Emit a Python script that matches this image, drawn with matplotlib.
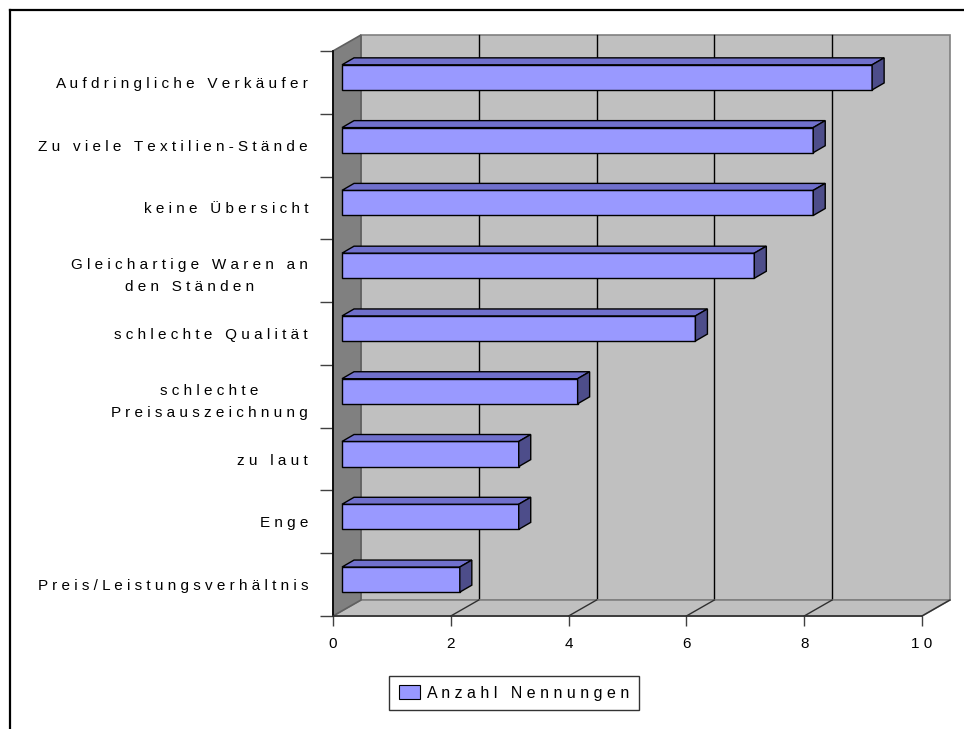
import matplotlib
matplotlib.use("Agg")
import matplotlib.pyplot as plt
from matplotlib.patches import Polygon, Patch
from matplotlib.lines import Line2D

plt.rcParams['font.family'] = ['Liberation Sans', 'DejaVu Sans']
plt.rcParams['font.size'] = 11

# categories top to bottom and number of mentions
categories = ['Aufdringliche Verkäufer', 'Zu viele Textilien-Stände', 'keine Übersicht',
              'Gleichartige Waren an\nden Ständen', 'schlechte Qualität',
              'schlechte\nPreisauszeichnung', 'zu laut', 'Enge', 'Preis/Leistungsverhältnis']
counts = [9, 8, 8, 7, 6, 4, 3, 3, 2]
xticks = [0, 2, 4, 6, 8, 10]
series_name = 'Anzahl Nennungen'


def spaced(s):
    # wide letter spacing like the old office charts
    return '\n'.join(' '.join(line) for line in s.split('\n'))


n = len(categories)
ypos = [n - 1 - i for i in range(n)]
xmax = 10

# 3d depth offsets in data units
DX, DY = 0.475, 0.255          # wall depth
BX, BY = 0.153, 0.08           # bar front offset
TX, TY = 0.204, 0.111          # bar depth
BH = 0.40                      # bar thickness

fig = plt.figure(figsize=(9.64, 7.29), dpi=100)
ax = fig.add_axes([333 / 964, 1 - 616 / 729, 589 / 964, 565 / 729])
ax.set_xlim(0, xmax)
ax.set_ylim(-0.5, n - 0.5)
ax.patch.set_visible(False)

y0, y1 = -0.5, n - 0.5

# back wall
ax.add_patch(Polygon([(DX, y0 + DY), (xmax + DX, y0 + DY), (xmax + DX, y1 + DY), (DX, y1 + DY)],
                     closed=True, facecolor='#C0C0C0', edgecolor='#808080', lw=1.2,
                     zorder=0, clip_on=False))
# gridlines on the back wall
for v in xticks[1:-1]:
    ax.plot([v + DX, v + DX], [y0 + DY, y1 + DY], color='black', lw=1, zorder=1, clip_on=False)
# floor
ax.add_patch(Polygon([(0, y0), (xmax, y0), (xmax + DX, y0 + DY), (DX, y0 + DY)],
                     closed=True, facecolor='#C0C0C0', edgecolor='#808080', lw=1.2,
                     zorder=1.5, clip_on=False))
for v in xticks[1:]:
    ax.plot([v, v + DX], [y0, y0 + DY], color='#303030', lw=1, zorder=1.6, clip_on=False)
# left wall
ax.add_patch(Polygon([(0, y0), (DX, y0 + DY), (DX, y1 + DY), (0, y1)],
                     closed=True, facecolor='#808080', edgecolor='#606060', lw=1.2,
                     zorder=2, clip_on=False))

# bars: front face, top face and end face
ax.barh([p + BY for p in ypos], counts, height=BH, left=BX, color='#9999FF',
        edgecolor='black', lw=1, zorder=3, clip_on=False)
for p, c in zip(ypos, counts):
    yb, yt = p + BY - BH / 2, p + BY + BH / 2
    xl, xr = BX, BX + c
    ax.add_patch(Polygon([(xl, yt), (xr, yt), (xr + TX, yt + TY), (xl + TX, yt + TY)],
                         closed=True, facecolor='#7070CC', edgecolor='black', lw=1,
                         zorder=3, clip_on=False))
    ax.add_patch(Polygon([(xr, yb), (xr + TX, yb + TY), (xr + TX, yt + TY), (xr, yt)],
                         closed=True, facecolor='#4D4D8A', edgecolor='black', lw=1,
                         zorder=3, clip_on=False))

# axes
for side in ['top', 'right']:
    ax.spines[side].set_visible(False)
ax.spines['left'].set_color('black')
ax.spines['left'].set_linewidth(1.2)
ax.spines['left'].set_zorder(2.5)
ax.spines['bottom'].set_color('#303030')
ax.spines['bottom'].set_linewidth(1.2)
ax.spines['bottom'].set_zorder(2.5)

ax.set_xticks(xticks)
ax.set_xticklabels([spaced(str(v)) for v in xticks])
ax.tick_params(axis='x', direction='out', length=7.2, width=1, color='#404040', pad=8)

ax.set_yticks([p - 0.5 for p in range(n + 1)])
ax.set_yticklabels([])
ax.tick_params(axis='y', which='major', direction='out', length=9.4, width=1, color='#404040')
ax.set_yticks(ypos, minor=True)
ax.set_yticklabels([spaced(c) for c in categories], minor=True, ma='center', linespacing=1.75)
ax.tick_params(axis='y', which='minor', length=0, pad=18)

# legend
handle = Patch(facecolor='#9999FF', edgecolor='black', lw=0.8)
leg = fig.legend([handle], [spaced(series_name)], loc='center', fontsize=11.5,
                 bbox_to_anchor=(514 / 964, 1 - 693 / 729), frameon=True, fancybox=False,
                 handlelength=1.3, handleheight=0.9, handletextpad=0.45, borderpad=0.6,
                 borderaxespad=0)
leg.get_frame().set_edgecolor('black')
leg.get_frame().set_linewidth(1)

# chart area border (top and left edges)
fig.add_artist(Line2D([9.5 / 964, 1], [1 - 9.5 / 729, 1 - 9.5 / 729], color='black', lw=1.6))
fig.add_artist(Line2D([9.5 / 964, 9.5 / 964], [0, 1 - 9.5 / 729], color='black', lw=1.6))

fig.savefig('out.png', dpi=100)
